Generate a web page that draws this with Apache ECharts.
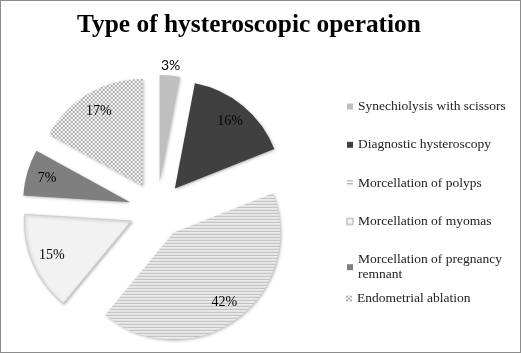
<!DOCTYPE html>
<html><head><meta charset="utf-8">
<script src="https://cdn.jsdelivr.net/npm/echarts@6/dist/echarts.min.js"></script>
<style>
html,body{margin:0;padding:0;background:#fff;}
#c{width:521px;height:353px;box-sizing:border-box;border:1px solid #8c8c8c;}
</style></head>
<body><div id="c"></div>
<script>
var title = 'Type of hysteroscopic operation';
var categories = ['Synechiolysis with scissors','Diagnostic hysteroscopy','Morcellation of polyps','Morcellation of myomas','Morcellation of pregnancy remnant','Endometrial ablation'];
var values = [3, 16, 42, 15, 7, 17];

function makePattern(w, h, draw) {
  var cv = document.createElement('canvas');
  cv.width = w; cv.height = h;
  var ctx = cv.getContext('2d');
  draw(ctx);
  return { image: cv, repeat: 'repeat' };
}
var stripes = makePattern(1, 3, function (ctx) {
  ctx.fillStyle = '#b4b4b4'; ctx.fillRect(0, 0, 1, 1);
  ctx.fillStyle = '#e2e2e2'; ctx.fillRect(0, 1, 1, 1);
  ctx.fillStyle = '#fbfbfb'; ctx.fillRect(0, 2, 1, 1);
});
var checker = makePattern(4, 4, function (ctx) {
  ctx.fillStyle = '#ffffff'; ctx.fillRect(0, 0, 4, 4);
  ctx.fillStyle = '#a8a8a8'; ctx.fillRect(0, 0, 2, 2); ctx.fillRect(2, 2, 2, 2);
});
var fills = ['#bfbfbf', '#404040', stripes, '#f2f2f2', '#7f7f7f', checker];
var borders = [null, null, null, '#cfcfcf', null, null];

var center = [156, 209];
var R = 107;
var serif = '"Liberation Serif", "DejaVu Serif", serif';

var baseData = categories.map(function (n, i) {
  var it = { name: n, value: values[i], selected: true, itemStyle: { color: fills[i] } };
  if (borders[i]) { it.itemStyle.borderColor = borders[i]; it.itemStyle.borderWidth = 1; }
  return it;
});
var innerLabelData = categories.map(function (n, i) {
  return { name: n, value: values[i], selected: true, label: { show: i !== 0 } };
});
var outerLabelData = categories.map(function (n, i) {
  return { name: n, value: values[i], selected: true, label: { show: i === 0 } };
});
var common = {
  type: 'pie', center: center, startAngle: 90, clockwise: true,
  selectedMode: 'multiple', selectedOffset: 28, animation: false,
  avoidLabelOverlap: false, emphasis: { disabled: true }
};
function pct(p) { return p.value + '%'; }

var legendText = { fontFamily: serif, fontSize: 13.5, color: '#222', lineHeight: 15, width: 156, overflow: 'break' };

var chart = echarts.init(document.getElementById('c'), null, { renderer: 'canvas' });
chart.setOption({
  backgroundColor: '#ffffff',
  animation: false,
  title: {
    text: title, left: 76, top: 12, padding: 0,
    textStyle: { fontFamily: serif, fontWeight: 'bold', fontSize: 25.4, color: '#000' }
  },
  legend: [{
    data: categories.slice(0, 5), orient: 'vertical', left: 345, top: 98, padding: 0,
    itemWidth: 6, itemHeight: 6, icon: 'rect', itemGap: 23.3, selectedMode: false,
    textStyle: legendText
  }, {
    data: categories.slice(5), orient: 'vertical', left: 345, top: 290, padding: 0,
    itemWidth: 6, itemHeight: 6, icon: 'rect', selectedMode: false,
    textStyle: legendText
  }],
  series: [
    Object.assign({}, common, {
      name: 'slices', radius: [0, R], data: baseData, label: { show: false }, labelLine: { show: false },
      itemStyle: { shadowBlur: 3, shadowColor: 'rgba(0,0,0,0.28)', shadowOffsetX: 1, shadowOffsetY: 1 }
    }),
    Object.assign({}, common, {
      name: 'labels', radius: [R * 0.56, R], data: innerLabelData, silent: true,
      itemStyle: { color: 'rgba(0,0,0,0)' }, labelLine: { show: false },
      label: { position: 'inside', formatter: pct, fontFamily: serif, fontSize: 14, color: '#000' }
    }),
    Object.assign({}, common, {
      name: 'outer', radius: [R, R + 14], data: outerLabelData, silent: true,
      itemStyle: { color: 'rgba(0,0,0,0)' }, labelLine: { show: false },
      label: { position: 'inside', formatter: pct, fontFamily: 'Lato, "Liberation Sans", sans-serif', fontSize: 14, color: '#000' }
    })
  ]
});
</script></body></html>
